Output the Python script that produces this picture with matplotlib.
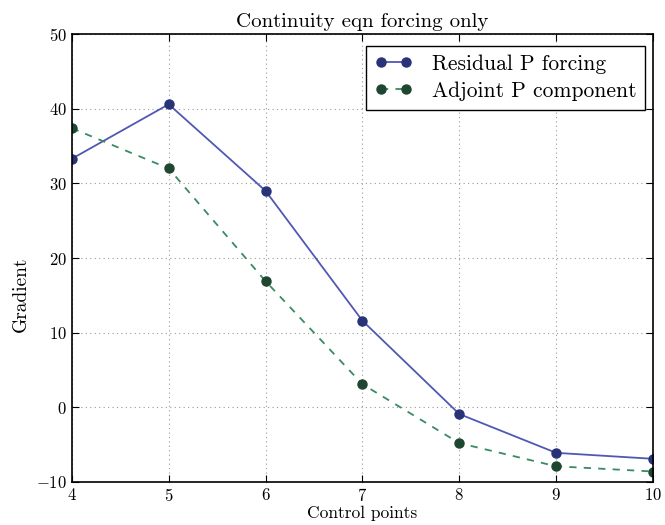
import matplotlib
matplotlib.use("Agg")
import matplotlib.pyplot as plt

plt.rcParams['font.family'] = 'serif'
plt.rcParams['font.serif'] = ['cmr10', 'DejaVu Serif']
plt.rcParams['mathtext.fontset'] = 'cm'
plt.rcParams['axes.formatter.use_mathtext'] = True
plt.rcParams['axes.unicode_minus'] = True

control_points = [4, 5, 6, 7, 8, 9, 10]
residual = [33.3, 40.6, 29.0, 11.6, -0.9, -6.1, -6.9]
adjoint = [37.4, 32.0, 16.9, 3.1, -4.8, -7.9, -8.6]

fig = plt.figure(figsize=(6.65, 5.25), dpi=100)
ax = fig.add_axes([0.108, 0.082, 0.874, 0.853])

ax.plot(control_points, residual, '-o', color='#5058b4', lw=1.3,
        markerfacecolor='#283378', markeredgecolor='#283378', markersize=6.5,
        label='Residual P forcing')
ax.plot(control_points, adjoint, '--o', color='#3a8a62', lw=1.3, dashes=(4, 4),
        markerfacecolor='#1e4630', markeredgecolor='#1e4630', markersize=6.5,
        label='Adjoint P component')

ax.set_xlim(4, 10)
ax.set_ylim(-10, 50)
ax.set_xticks(control_points)
ax.set_yticks([-10, 0, 10, 20, 30, 40, 50])
ax.grid(True, linestyle=(0, (1, 3)), color='#999999', lw=0.8)
ax.tick_params(direction='in', top=True, right=True, labelsize=12, length=5)
for s in ax.spines.values():
    s.set_linewidth(1.2)

ax.set_title('Continuity eqn forcing only', fontsize=15, pad=5)
ax.set_xlabel('Control points', fontsize=12.5, labelpad=1)
ax.set_ylabel('Gradient', fontsize=14)
ax.yaxis.set_label_coords(-0.072, 0.42)

leg = ax.legend(loc='upper right', bbox_to_anchor=(0.987, 0.974),
                borderaxespad=0, fontsize=15.5, fancybox=False,
                edgecolor='black', framealpha=1, handlelength=1.8,
                handletextpad=0.9, labelspacing=0.35, numpoints=2)
leg.get_frame().set_linewidth(1.0)

fig.savefig('out.png', dpi=100)
